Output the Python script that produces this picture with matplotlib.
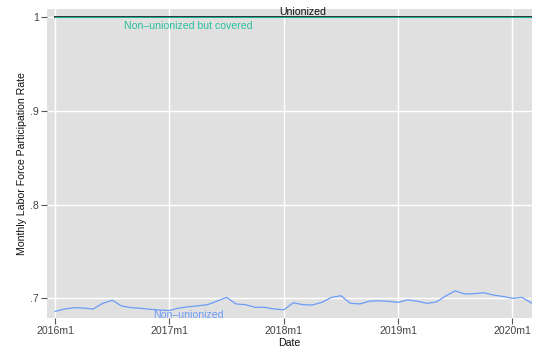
import matplotlib
matplotlib.use("Agg")
import matplotlib.pyplot as plt

plt.rcParams['font.family'] = ['Liberation Sans', 'DejaVu Sans']

# Monthly data, 2016m1 .. 2020m3
start_year = 2016
n_months = 51
months = [f"{start_year + i // 12}m{i % 12 + 1}" for i in range(n_months)]

nonunion = [0.686, 0.6886, 0.690, 0.6896, 0.6886, 0.6947, 0.6979, 0.6918, 0.690, 0.6893,
            0.6883, 0.6875, 0.687, 0.6896, 0.691, 0.692, 0.6932, 0.697, 0.701, 0.694,
            0.6932, 0.6904, 0.6904, 0.6886, 0.6877, 0.6953, 0.6932, 0.6929, 0.6957, 0.701,
            0.7028, 0.6947, 0.694, 0.697, 0.6974, 0.6968, 0.6957, 0.6983, 0.697, 0.6947,
            0.696, 0.7025, 0.708, 0.7046, 0.705, 0.706, 0.7035, 0.702, 0.700, 0.701, 0.695]
covered = [1.0] * n_months
unionized = [1.0] * n_months

yticks = [0.7, 0.8, 0.9, 1.0]
ytick_labels = [".7", ".8", ".9", "1"]
xtick_labels = ["2016m1", "2017m1", "2018m1", "2019m1", "2020m1"]

x = list(range(n_months))

fig = plt.figure(figsize=(5.34, 3.51), dpi=100)
ax = fig.add_axes([47/534, 33/351, 485/534, 309/351])
ax.set_facecolor('#e0e0e0')
for s in ax.spines.values():
    s.set_visible(False)

ax.plot(x, unionized, color='#222222', lw=1.3, zorder=3)
ax.plot(x, covered, color='#1aae96', lw=0.8, zorder=4)
ax.plot(x, nonunion, color='#6b9cf7', lw=0.9, zorder=3)

ax.set_xlim(-0.84, 50.05)
ax.set_ylim(0.679, 1.0089)

xt = [months.index(m) for m in xtick_labels]
ax.set_xticks(xt)
ax.set_xticklabels(xtick_labels)
ax.set_yticks(yticks)
ax.set_yticklabels(ytick_labels)
ax.grid(True, color='white', lw=1.0, zorder=0)
ax.set_axisbelow(True)
ax.tick_params(axis='both', length=4, width=0.8, color='#555555', labelsize=7.6,
               labelcolor='#444444', pad=2)

ax.set_ylabel("Monthly Labor Force Participation Rate", fontsize=7.6, color='#111111', labelpad=2)
ax.set_xlabel("Date", fontsize=7.6, color='#111111', labelpad=1.5)

lab_u = months.index("2018m3")
lab_c = months.index("2017m3")
ax.text(lab_u, unionized[lab_u] + 0.0005, "Unionized", fontsize=7.6, color='#111111',
        ha='center', va='bottom', zorder=5, clip_on=False)
ax.text(lab_c, 0.9907, "Non\u2013unionized but covered", fontsize=7.6, color='#2bbf9f',
        ha='center', va='center', zorder=5)
ax.text(lab_c, 0.6822, "Non\u2013unionized", fontsize=7.6, color='#6b9cf7',
        ha='center', va='center', zorder=5)

fig.savefig("out.png", dpi=100)
